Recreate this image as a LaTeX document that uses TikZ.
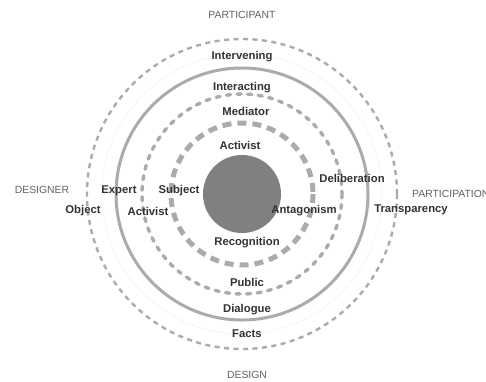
\documentclass[tikz,border=0pt]{standalone}
\usepackage{fontspec}
\setmainfont{Liberation Sans}
\begin{document}
\begin{tikzpicture}[x=1pt,y=-1pt,
  ringgray/.style={draw=black!33},
  lbl/.style={font=\fontsize{11.3}{13}\selectfont\bfseries, text=black!80, inner sep=0pt},
  pole/.style={font=\fontsize{10.4}{12}\selectfont, text=black!62, inner sep=0pt}]
  \clip (0,0) rectangle (486,381);
  \fill[white] (0,0) rectangle (486,381);
  \coordinate (c) at (242,194);
  % rings, outermost first
  \draw[ringgray, line width=2.4pt, dash pattern=on 5pt off 4.5pt] (c) circle[radius=155];
  \draw[draw=black!5, line width=0.6pt] (c) circle[radius=140];
  \draw[ringgray, line width=3pt] (c) circle[radius=126];
  \draw[ringgray, line width=3.4pt, line cap=round, dash pattern=on 4pt off 6.6pt] (c) circle[radius=100];
  \draw[ringgray, line width=5pt, dash pattern=on 9pt off 6pt] (c) circle[radius=71];
  \fill[black!50] (c) circle[radius=39];
  % poles
  \node[pole] (participant) at (242,15) {PARTICIPANT};
  \node[pole] (designer) at (42,190) {DESIGNER};
  \node[pole, anchor=west] (participation) at (412,194) {PARTICIPATION};
  \node[pole] (design) at (247,375) {DESIGN};
  % ring labels
  \node[lbl] (intervening) at (242,57) {Intervening};
  \node[lbl] (interacting) at (242,88) {Interacting};
  \node[lbl] (mediator) at (246,111) {Mediator};
  \node[lbl] (activisttop) at (240,145) {Activist};
  \node[lbl] (expert) at (119,191) {Expert};
  \node[lbl] (subject) at (179,191) {Subject};
  \node[lbl] (object) at (83,211) {Object};
  \node[lbl] (activistleft) at (148,211) {Activist};
  \node[lbl] (deliberation) at (352,178) {Deliberation};
  \node[lbl] (antagonism) at (304,211) {Antagonism};
  \node[lbl] (transparency) at (411,210) {Transparency};
  \node[lbl] (recognition) at (247,243) {Recognition};
  \node[lbl] (public) at (247,282) {Public};
  \node[lbl] (dialogue) at (247,310) {Dialogue};
  \node[lbl] (facts) at (247,334) {Facts};
\end{tikzpicture}
\end{document}
